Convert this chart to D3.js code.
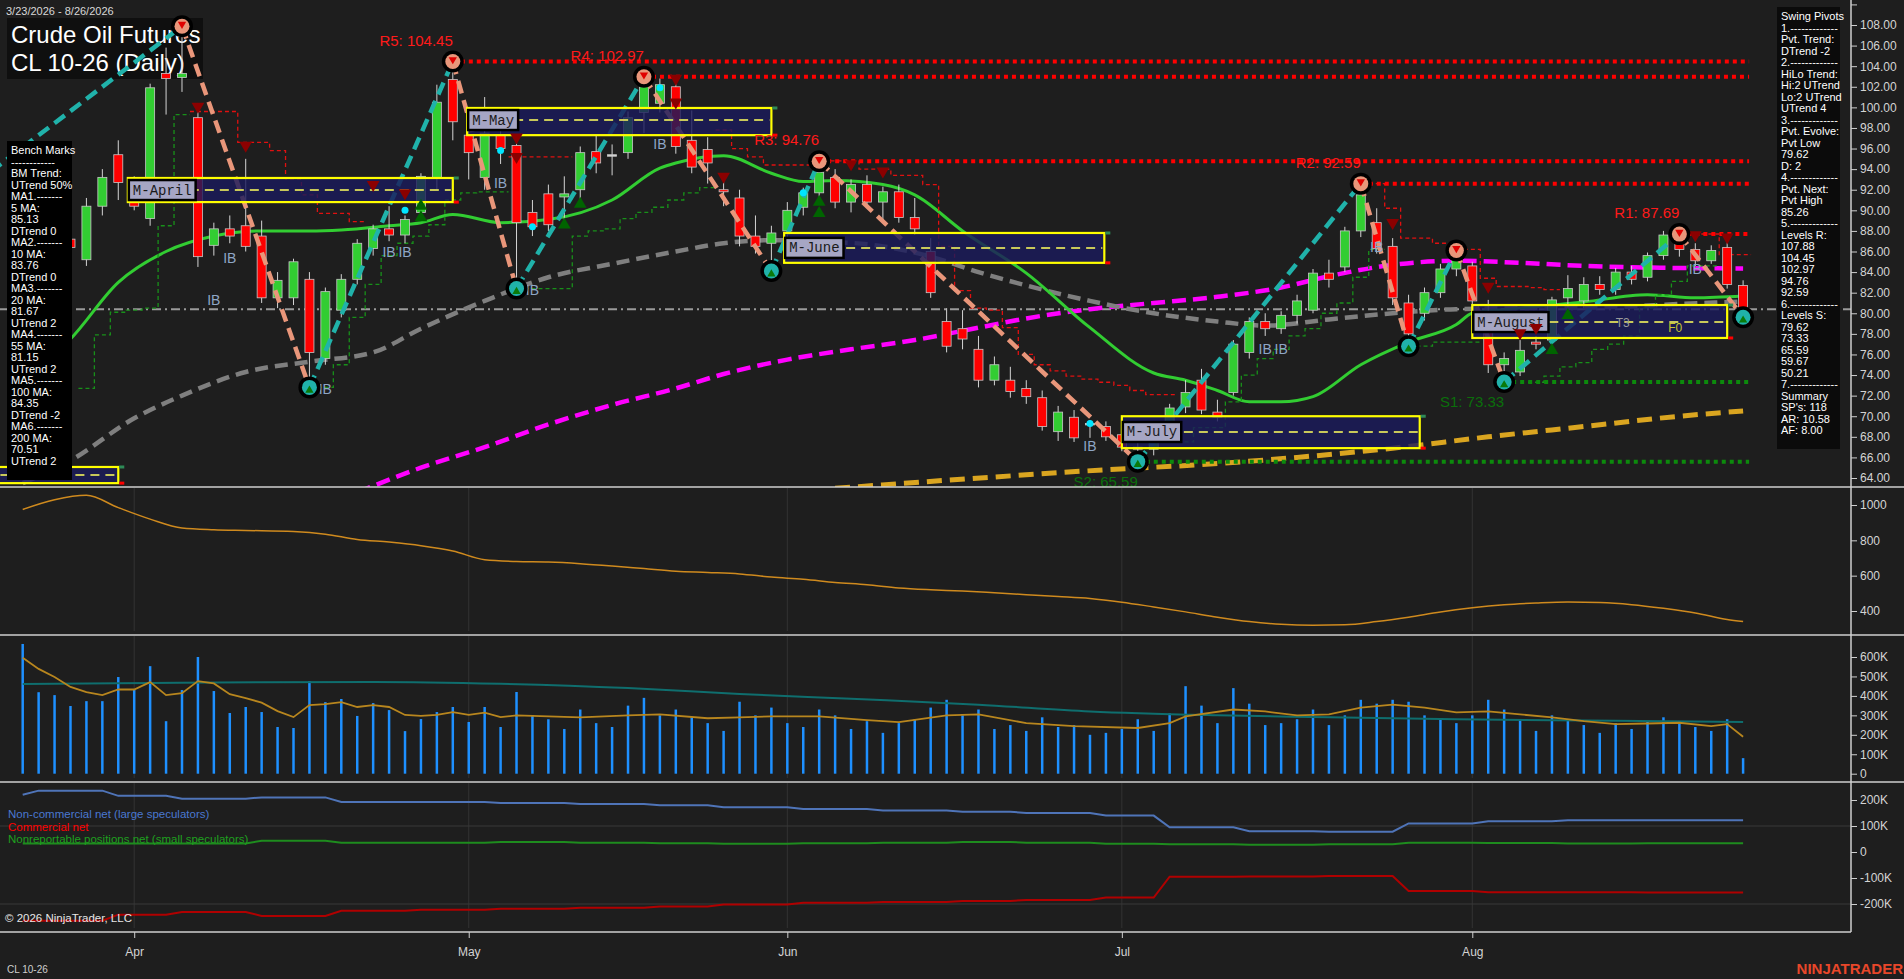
<!DOCTYPE html>
<html><head><meta charset="utf-8">
<script src="https://cdn.jsdelivr.net/npm/d3@7"></script>
<style>
html,body{margin:0;padding:0;background:#1e1e1e;overflow:hidden}
svg{display:block}
text{font-family:"Liberation Sans",Arial,sans-serif}
</style></head><body>
<svg id="chart" width="1904" height="979"></svg>
<script>
// ---------------- DATA ----------------
const holidays = ["2026-04-03","2026-05-25","2026-06-19","2026-07-03"];
const opens  = [89,90.5,89.2,87.2,85.2,90.4,95.4,92.5,89.2,103.3,102.9,99,86.6,88.2,88.5,87.5,81.5,81.5,83.3,75.6,80.3,83.3,86.3,88.2,87.6,89.8,93.2,102.7,97.3,93.2,97.3,96.3,89.8,91.6,91.3,92,95.7,95.3,95.6,99.5,100.4,102,96.8,95.9,92,91.2,87.5,86.8,88,90.3,91.7,93.2,90.8,92.5,90.8,91.8,89.3,86,79.2,78.5,76.5,73.5,73.5,72.7,71.8,68.5,69.9,69.2,69,68.2,67,66.8,68,70.9,73.5,70.4,72.3,76.2,79.2,78.5,79.8,80.3,83.9,84.5,88,88.8,86.5,81,80,82,84.3,84.6,79.3,75,74.3,77.2,77.4,81.5,81.2,82.8,82.3,84,83.5,85.6,87.2,86.2,85.1,86.4,82.7];
const highs  = [91.5,92,90,88.5,91.2,94,96.8,93.3,102.3,105.8,107.88,99.6,88.8,89.5,95,89,84,85.3,84,82.5,83.8,87.2,88.6,90.4,89.5,93.6,102.2,104.45,100,101,99,97,91,92.5,93.3,96.2,97.3,96.4,99.6,102.97,102.8,102.4,99.7,97.1,93.5,92,89.5,88.5,90.8,92.2,94.76,94,93,93.4,92.3,92.5,91.2,87.3,80.5,80.3,77.8,75.8,74.8,73.5,72.5,71,70.6,69.6,69.5,68.9,67.6,68.6,71.2,73.5,74.6,71.6,77.4,79.6,80,80.2,81.8,84.3,85.2,88.4,92.59,90.2,87.3,81.8,82.5,84.8,86.1,85,81.3,76.2,77.4,77.8,81.6,83.7,83.5,83.6,84.4,84.6,85.9,88,87.69,86.8,86.6,87,83.2];
const lows   = [87.5,88.8,86.5,85.5,84.6,89.5,91,90,88.5,99.3,101.5,84.5,85.6,86.8,86,81,80.5,80.8,72.8,75,79.6,82.8,85.6,87,86.8,89.4,92,96.8,93,92,94.5,82.4,87.5,88,89,91,93.6,93.4,95,97.5,99.5,95.5,93.6,92.6,90.4,86.5,85.8,84.1,87.4,89.5,91.2,90.2,89.8,90.3,89,88.8,87.6,81.5,76.2,76.5,72.8,73,71.8,71.2,68.6,67.6,67.5,67.9,67.6,66.6,65.59,66.2,67.5,70.3,70.2,69.5,72,75.6,77.8,78,79,80,82.5,84,87.4,85.8,80.8,76.8,79.3,81.5,83.6,80.5,74.2,73.33,73.9,76.5,77,80.6,80.5,81.8,81.8,82.8,83.1,85.2,85.5,84.6,84.8,82.4,79.62];
const closes = [90.5,89.2,87.2,86.4,90.4,93.2,92.7,90.4,101.9,102.8,103.3,85.5,88.2,87.5,86.5,81.5,83.2,85,76.2,82.1,83.3,86.8,88.2,87.6,89.1,93.3,100.5,98.6,95.6,97.5,96,88.8,88.4,88.6,91.6,95.6,94.6,95.4,99,102,102.2,96.2,94.2,94.6,91.8,87.5,86.5,87.8,90,91.7,93.7,90.8,92.5,90.8,91.8,89.3,88.2,82,76.8,77.5,73.5,75,72.4,71.9,69,70.4,67.9,69.3,68,67,66.8,68,70.8,72.3,70.6,69.9,77,79.2,78.5,79.8,81.2,83.9,83.3,88,91.5,86.3,81.5,78,82,84.3,85.4,81.2,75,75.6,76.4,77,81.3,82.4,82.8,82.3,84,83.3,85.6,87.6,86.2,85.1,86.1,82.8,80.4];
const volumesK = [667,419,404,348,373,373,497,433,553,270,430,600,425,312,343,317,240,235,476,368,384,297,363,327,219,281,317,343,266,343,240,
  420,300,280,230,330,260,240,350,390,300,330,290,260,220,370,300,340,260,240,330,300,230,270,210,260,280,340,380,300,330,
  230,250,220,290,240,250,200,210,230,280,220,310,450,350,260,440,360,250,260,280,330,250,300,380,360,380,370,300,280,260,
  300,380,330,280,220,300,280,250,210,260,230,270,290,260,240,220,280,80];
const volAvgFast = [[0,596],[1,539],[2,497],[3,446],[4,420],[5,404],[6,433],[7,433],[8,471],[9,404],[10,414],[11,476],[12,464],[13,409],[14,389],[15,365],[16,322],[17,291],[18,353],[19,358],[20,368],[21,343],[22,353],[23,343],[24,302],[25,297],[26,302],[27,317],[28,302],[29,314],[30,291],[31,300],[33,295],[35,290],[38,300],[40,305],[43,285],[45,290],[47,295],[50,295],[53,275],[55,265],[58,300],[60,305],[63,260],[66,245],[70,235],[72,260],[73,295],[76,330],[78,320],[80,300],[82,305],[84,340],[86,355],[88,340],[90,315],[92,320],[94,305],[96,290],[98,270],[100,255],[102,258],[104,262],[106,245],[107,255],[108,190]];
const volAvgSlow = [[0,461],[8,466],[15,470],[22,472],[30,462],[38,440],[45,410],[52,385],[60,355],[67,320],[75,300],[82,290],[90,280],[100,272],[108,266]];
const oscValues = [[0,975],[2,1030],[4,1055],[6,985],[8,920],[10,870],[12,860],[14,856],[17,850],[19,835],[21,805],[23,790],[25,770],[27,740],[29,690],[31,680],[33,677],[35,668],[37,655],[39,640],[41,625],[43,618],[45,610],[47,592],[49,580],[51,562],[53,548],[55,530],[57,520],[59,513],[61,503],[63,492],[65,482],[67,471],[69,450],[71,423],[73,395],[75,365],[77,340],[79,325],[81,320],[83,322],[85,340],[87,365],[89,395],[91,418],[93,435],[95,445],[97,451],[99,448],[101,436],[103,415],[105,389],[107,352],[108,340]];
// weekly COT (K), one value per report week (a new week starts each Tuesday)
const cotLarge = [220,236,216,205,210,192,192,188,185,180,172,165,160,155,150,140,95,80,78,110,118,122,122,122];
const cotComm  = [-264,-264,-241,-231,-246,-226,-222,-218,-214,-210,-202,-195,-192,-188,-185,-175,-95,-94,-92,-150,-155,-155,-156,-156];
const cotSmall = [33,33,33,33,43,36,36,38,36,34,32,34,36,38,36,32,30,28,30,36,35,33,34,34];
// moving averages [bar, price]
const ma20  = [[0,73.5],[3,77.5],[6,83],[9,86],[12,87.5],[15,88],[18,88],[20,88.1],[23,88.5],[25,88.8],[27,89.6],[30,88.8],[33,89.1],[37,91],[40,94.1],[41,94.6],[44,95.3],[47,93.6],[49,92.8],[51,92.9],[54,92.5],[56,91.5],[59,88],[63,83.9],[67,78.6],[71,74.2],[73,73.5],[75,72.5],[77,71.4],[79,71.4],[81,71.9],[84,75],[87,77.2],[90,78.9],[91,80],[94,80.5],[98,81.1],[102,81.8],[105,81.5],[108,81.67]];
const ma55  = [[0,63.5],[3,65.7],[7,69.8],[10,72],[14,74.3],[18,75.3],[22,76.2],[25,78.5],[29,81.2],[33,83.5],[37,84.8],[41,86],[44,86.8],[47,87.1],[50,87],[54,86.5],[57,85.5],[60,84],[63,82.7],[67,81.2],[71,80],[75,79.2],[78,78.8],[82,79.4],[86,80],[90,80.4],[95,80.5],[100,80.6],[104,80.9],[108,81.15]];
const ma100 = [[21,62.6],[25,65],[29,67],[33,69.2],[37,71.1],[41,72.7],[44,74.1],[48,75.5],[52,76.5],[56,77.4],[60,78.6],[63,79.5],[67,80.4],[71,81],[75,81.6],[79,82.5],[82,83.6],[86,84.7],[90,85.1],[94,84.9],[98,84.6],[104,84.4],[108,84.35]];
const ma200 = [[51,63.0],[61,64.1],[68,64.8],[74,65.3],[80,66.0],[86,66.9],[92,68.0],[98,69.0],[104,70.0],[108,70.51]];
const lastPrice = 80.4;
// swing pivots
const pivotBars   = [-12,10,18,27,31,39,47,50,70,84,87,90,93,104,108];
const pivotPrices = [82,107.88,72.8,104.45,82.4,102.97,84.1,94.76,65.59,92.59,76.8,86.1,73.33,87.69,79.62];
// levels
const levelNames  = ["R5","R4","R3","R2","R1","S1","S2"];
const levelValues = [104.45,102.97,94.76,92.59,87.69,73.33,65.59];
const levelFrom   = [27,39,50,84,104,93,70];
// trailing stop step lines [first bar, values per bar]
const stopsUpper = [[11,[99.6,99.6,99.6,96.6,96.6,95.8,93,91.5,89.7,89.7,88.9]],[31,[95.2,95.2,95.2,95.2]],
  [44,[97.8,96,95.2,94.4,94.4,94.4,94.4,94.8,94.8,94,94,93.4,93.4,92.5,86.5,82.2,80.5,80.3,78.6,76,75,74.4,73.9,73.6,73.3,73,72.5,72.1,72.1]],
  [85,[92.6,90.2,87.3,87.3,86.8,86.2,86.2,83.4,82.6,82.6,82.5,82.3]],[105,[87.7,87.7,85.7,85.7]]];
const stopsLower = [[4,[72.7,77.9,80.1,80.3,80.5,88.5,99.3]],[19,[72.8,75,79.6,82.8,85.6,86.8,87.5,88.6,91,91.7,91.8,91.8]],
  [32,[82.4,82.4,82.4,87.5,88,88.2,89.2,89.8,90.3,91.0,91.7,92.2]],[73,[67.5,68.9,68.9,71.4,74,75.6,76.5,77.8,78.5,80,81,83.5,86.2]],
  [88,[76.8,77.2,77.2,77.2]],[95,[73.3,73.9,74.8,75.2,76.5,77,77.8,80.5,81.8,83.1,84.6,84.6]]];
// monthly pivot boxes
const mNames = ["M-March","M-April","M-May","M-June","M-July","M-August"];
const mFrom  = [-10,6.6,27.9,47.8,69.0,91.0];
const mTo    = [6.0,27.0,47.0,67.9,87.7,107.0];
const mTop   = [65.07,93.14,99.94,87.8,70.0,80.8];
const mBot   = [63.5,90.8,97.3,84.9,66.9,77.6];
const mMid   = [64.3,91.97,98.77,86.35,68.47,79.15];
// signal markers
const sellMarks = [[11,100.1],[14,96.3],[22,92.5],[24,91.7],[31,97.1],[31,95.2],[41,102.8],[41,100.5],[44,93.3],[52,94.5],[54,93.8],[86,88.8],[92,82.6],[94,78.1],[95,78.6],[105,87.6],[107,87.4]];
const buyMarks  = [[25,90.4],[25,89.3],[34,88.6],[35,90.6],[50,90.8],[50,89.7],[96,76.4],[97,79.8]];
const dotMarks  = [[24,90],[30,95.8],[32,88.4],[40,101.9],[49,91.7],[67,69.3]];
const ibMarks   = [[12,81.3],[13,85.4],[19,72.6],[23,86],[24,86],[30,92.7],[32,82.3],[40,96.4],[67,67.1],[78,76.5],[79,76.5],[85,86.4],[105,84.3]];
const weekTags  = [["T3",100,79.05,"#9a9a9a"],["F0",103.3,78.6,"#c8c832"]];
// tick labels
const priceTicks = d3.range(64,110.1,2);
const oscTicks = [400,600,800,1000];
const volTicks = [0,100,200,300,400,500,600];
const cotTicks = [-200,-100,0,100,200];
const benchLines = ["Bench Marks","------------","BM Trend:","UTrend 50%","MA1.-------","5 MA:","85.13","DTrend 0","MA2.-------","10 MA:","83.76","DTrend 0","MA3.-------","20 MA:","81.67","UTrend 2","MA4.-------","55 MA:","81.15","UTrend 2","MA5.-------","100 MA:","84.35","DTrend -2","MA6.-------","200 MA:","70.51","UTrend 2"];
const swingLines = ["Swing Pivots","1.-------------","Pvt. Trend:","DTrend -2","2.-------------","HiLo Trend:","Hi:2 UTrend","Lo:2 UTrend","UTrend 4","3.-------------","Pvt. Evolve:","Pvt Low","79.62","D: 2","4.-------------","Pvt. Next:","Pvt High","85.26","5.-------------","Levels R:","107.88","104.45","102.97","94.76","92.59","6.-------------","Levels S:","79.62","73.33","65.59","59.67","50.21","7.-------------","Summary","SP's: 118","AR: 10.58","AF: 8.00"];
const legendNames = ["Non-commercial net (large speculators)","Commercial net","Nonreportable positions net (small speculators)"];

// ---------------- BUILD ----------------
const dates = [];
for (let d = new Date(Date.UTC(2026,2,23)); d <= new Date(Date.UTC(2026,7,26)); d.setUTCDate(d.getUTCDate()+1)) {
  const wd = d.getUTCDay(), s = d.toISOString().slice(0,10);
  if (wd>0 && wd<6 && !holidays.includes(s)) dates.push(new Date(d));
}
let wk = 0; const weekOf = dates.map((d,i)=>{ if (i>0 && d.getUTCDay()===2) wk++; return wk; });
const monthIdx = dates.map((d,i)=>i).filter(i=>i>0 && dates[i].getUTCMonth()!==dates[i-1].getUTCMonth());

const svg = d3.select("#chart");
const AX = 1851;
const x = d3.scaleLinear().domain([0,108]).range([22.7,1743.1]);
const yP = d3.scaleLinear().domain([64,108]).range([478,25]);
const yO = d3.scaleLinear().domain([400,1000]).range([611,505]);
const yV = d3.scaleLinear().domain([0,600]).range([773.7,657]);
const yC = d3.scaleLinear().domain([-200,200]).range([904,800]);
const panels = {price:[0,487],osc:[487,635],vol:[635,782],cot:[782,932]};

const defs = svg.append("defs");
Object.entries(panels).forEach(([k,[a,b]])=>{
  defs.append("clipPath").attr("id","clip-"+k).append("rect").attr("x",0).attr("y",a).attr("width",AX).attr("height",b-a);
});
svg.append("rect").attr("width",1904).attr("height",979).attr("fill","#1e1e1e");

// title (beneath chart marks)
svg.append("text").attr("x",6).attr("y",15).attr("fill","#d8d8d8").style("font-size","11px").text("3/23/2026 - 8/26/2026");
svg.append("rect").attr("x",7).attr("y",18).attr("width",196).attr("height",61).attr("fill","#0f0f0f");
svg.append("text").attr("x",11).attr("y",43).attr("fill","#fff").style("font-size","24px").text("Crude Oil Futures");
svg.append("text").attr("x",11).attr("y",71).attr("fill","#fff").style("font-size","24px").text("CL 10-26 (Daily)");

// grid in lower panels
["osc","vol","cot"].forEach(k=>{
  const [a,b]=panels[k];
  svg.append("g").selectAll("line").data(monthIdx).join("line")
    .attr("x1",i=>x(i)).attr("x2",i=>x(i)).attr("y1",a+1).attr("y2",b-4).attr("stroke","#333").attr("stroke-width",1);
});
svg.append("g").selectAll("line").data([100,-200]).join("line").attr("x1",0).attr("x2",AX)
  .attr("y1",d=>yC(d)).attr("y2",d=>yC(d)).attr("stroke","#383838");

// ---------- price panel ----------
const gp = svg.append("g").attr("clip-path","url(#clip-price)");
gp.append("line").attr("x1",0).attr("x2",AX).attr("y1",yP(lastPrice)).attr("y2",yP(lastPrice))
  .attr("stroke","#9a9a9a").attr("stroke-width",2).attr("stroke-dasharray","9,4,2,4");
const pl = d3.line().x(d=>x(d[0])).y(d=>yP(d[1])).curve(d3.curveMonotoneX);
gp.append("path").attr("d",pl(ma200)).attr("fill","none").attr("stroke","#daa520").attr("stroke-width",5).attr("stroke-dasharray","15,8");
gp.append("path").attr("d",pl(ma100)).attr("fill","none").attr("stroke","#ff00ff").attr("stroke-width",4.5).attr("stroke-dasharray","14,7");
gp.append("path").attr("d",pl(ma55)).attr("fill","none").attr("stroke","#7f7f7f").attr("stroke-width",4.5).attr("stroke-dasharray","13,7");
gp.append("path").attr("d",pl(ma20)).attr("fill","none").attr("stroke","#32cd32").attr("stroke-width",3);

const stepLine = d3.line().x(d=>x(d[0])).y(d=>yP(d[1])).curve(d3.curveStepAfter);
function stepPts(seg){ const [s,v]=seg; const pts=v.map((val,k)=>[s+k-0.5,val]); pts.push([s+v.length-0.5,v[v.length-1]]); return pts; }
gp.append("g").selectAll("path").data(stopsUpper).join("path").attr("d",d=>stepLine(stepPts(d)))
  .attr("fill","none").attr("stroke","#e01010").attr("stroke-width",1.3).attr("stroke-dasharray","4,3");
gp.append("g").selectAll("path").data(stopsLower).join("path").attr("d",d=>stepLine(stepPts(d)))
  .attr("fill","none").attr("stroke","#18901a").attr("stroke-width",1.3).attr("stroke-dasharray","4,3");

const candles = dates.map((d,i)=>({i,o:opens[i],h:highs[i],l:lows[i],c:closes[i]}));
gp.append("g").selectAll("line").data(candles).join("line")
  .attr("x1",d=>x(d.i)).attr("x2",d=>x(d.i)).attr("y1",d=>yP(d.h)).attr("y2",d=>yP(d.l))
  .attr("stroke","#d4d4d4").attr("stroke-width",1);
gp.append("g").selectAll("rect").data(candles).join("rect")
  .attr("x",d=>x(d.i)-4.5).attr("width",9)
  .attr("y",d=>yP(Math.max(d.o,d.c))).attr("height",d=>Math.max(1.5,Math.abs(yP(d.o)-yP(d.c))))
  .attr("fill",d=>Math.abs(d.c-d.o)<0.15?"#d4d4d4":(d.c>d.o?"#32cd32":"#ff0000"))
  .attr("stroke","#c8c8c8").attr("stroke-width",0.8);

// swing lines
const pivots = pivotBars.map((b,k)=>({b,p:pivotPrices[k],t:k%2===0?"L":"H"}));
gp.append("g").selectAll("line").data(pivots.slice(0,-1)).join("line")
  .attr("x1",d=>x(d.b)).attr("y1",d=>yP(d.p))
  .attr("x2",(d,k)=>x(pivots[k+1].b)).attr("y2",(d,k)=>yP(pivots[k+1].p))
  .attr("stroke",d=>d.t==="L"?"#20b2aa":"#e9967a").attr("stroke-width",4.5).attr("stroke-dasharray","13,7");

// monthly boxes
const boxes = mNames.map((n,k)=>({n,f:mFrom[k],t:mTo[k],top:mTop[k],bot:mBot[k],mid:mMid[k]}));
const gb = gp.append("g");
gb.selectAll("rect.box").data(boxes).join("rect").attr("class","box")
  .attr("x",d=>x(d.f)).attr("width",d=>x(d.t)-x(d.f)).attr("y",d=>yP(d.top)).attr("height",d=>yP(d.bot)-yP(d.top))
  .attr("fill","#1b1b5c").attr("fill-opacity",0.82).attr("stroke","#ffff00").attr("stroke-width",2.2);
gb.selectAll("line.mid").data(boxes).join("line").attr("class","mid")
  .attr("x1",d=>x(d.f)+2).attr("x2",d=>x(d.t)-2).attr("y1",d=>yP(d.mid)).attr("y2",d=>yP(d.mid))
  .attr("stroke","#c8c85a").attr("stroke-width",2).attr("stroke-dasharray","9,6");
gb.selectAll("rect.tg").data(boxes).join("rect").attr("class","tg")
  .attr("x",d=>x(d.t)+1).attr("y",d=>yP(d.top)-1.5).attr("width",5).attr("height",3).attr("fill","#2e8b57");
gb.selectAll("rect.tr").data(boxes).join("rect").attr("class","tr")
  .attr("x",d=>x(d.t)+1).attr("y",d=>yP(d.bot)-1.5).attr("width",5).attr("height",3).attr("fill","#ff0000");
const lb = gb.selectAll("g.lab").data(boxes.slice(1)).join("g").attr("class","lab");
lb.append("rect").attr("x",d=>x(d.f)+1).attr("y",d=>yP(d.mid)-10).attr("width",d=>d.n.length*8.4+8).attr("height",20)
  .attr("fill","#a6a6c4").attr("stroke","#000").attr("stroke-width",2.5);
lb.append("text").attr("x",d=>x(d.f)+5).attr("y",d=>yP(d.mid)+4.5).attr("fill","#1a1a1a")
  .style("font-family","'Liberation Mono','DejaVu Sans Mono',monospace").style("font-size","14px").text(d=>d.n);
gp.append("g").selectAll("text").data(weekTags).join("text").attr("x",d=>x(d[1])).attr("y",d=>yP(d[2])+4)
  .attr("fill",d=>d[3]).style("font-size","12px").text(d=>d[0]);

// level lines
const levels = levelNames.map((n,k)=>({n,v:levelValues[k],f:levelFrom[k],r:n[0]==="R"}));
gp.append("g").selectAll("line").data(levels).join("line")
  .attr("x1",d=>x(d.f)+8).attr("x2",x(108)+6).attr("y1",d=>yP(d.v)).attr("y2",d=>yP(d.v))
  .attr("stroke",d=>d.r?"#ff0000":"#0c8a0c").attr("stroke-width",4).attr("stroke-dasharray","4,4");
gp.append("g").selectAll("text").data(levels).join("text")
  .attr("x",d=>x(d.f)).attr("y",d=>d.r?yP(d.v)-16:yP(d.v)+25).attr("text-anchor","end")
  .attr("fill",d=>d.r?"#ff1a1a":"#0b6e0b").style("font-size","15px").text(d=>`${d.n}: ${d.v.toFixed(2)}`);

// markers
const tri = d3.symbol().type(d3.symbolTriangle).size(70);
gp.append("g").selectAll("path").data(sellMarks).join("path")
  .attr("transform",d=>`translate(${x(d[0])},${yP(d[1])}) rotate(180)`).attr("d",tri).attr("fill","#8b0000");
gp.append("g").selectAll("path").data(buyMarks).join("path")
  .attr("transform",d=>`translate(${x(d[0])},${yP(d[1])})`).attr("d",tri).attr("fill","#006400");
gp.append("g").selectAll("circle").data(dotMarks).join("circle")
  .attr("cx",d=>x(d[0])).attr("cy",d=>yP(d[1])).attr("r",3.5).attr("fill","#00e5ff");
gp.append("g").selectAll("text").data(ibMarks).join("text")
  .attr("x",d=>x(d[0])).attr("y",d=>yP(d[1])+5).attr("text-anchor","middle").attr("fill","#8ea6c6").style("font-size","14px").text("IB");

// pivot circles
const pv = gp.append("g").selectAll("g").data(pivots.filter(d=>d.b>=0)).join("g")
  .attr("transform",d=>`translate(${x(d.b)},${yP(d.p)})`);
pv.append("circle").attr("r",11).attr("fill","#000");
pv.append("circle").attr("r",7.5).attr("fill",d=>d.t==="H"?"#e9967a":"#20b2aa");
pv.append("path").attr("d",d3.symbol().type(d3.symbolTriangle).size(30))
  .attr("transform",d=>d.t==="H"?"translate(0,-2) rotate(180)":"translate(0,3)")
  .attr("fill",d=>d.t==="H"?"#e00000":"#0a7a0a");

// ---------- oscillator ----------
const go = svg.append("g").attr("clip-path","url(#clip-osc)");
go.append("path").attr("d",d3.line().x(d=>x(d[0])).y(d=>yO(d[1])).curve(d3.curveMonotoneX)(oscValues))
  .attr("fill","none").attr("stroke","#cf8a1e").attr("stroke-width",1.5);

// ---------- volume ----------
const gv = svg.append("g").attr("clip-path","url(#clip-vol)");
gv.append("g").selectAll("line").data(volumesK).join("line")
  .attr("x1",(d,i)=>x(i)).attr("x2",(d,i)=>x(i)).attr("y1",yV(0)).attr("y2",d=>yV(d))
  .attr("stroke","#1e90ff").attr("stroke-width",2.5);
const vl = d3.line().x(d=>x(d[0])).y(d=>yV(d[1]));
gv.append("path").attr("d",vl.curve(d3.curveMonotoneX)(volAvgSlow)).attr("fill","none").attr("stroke","#0f6e6e").attr("stroke-width",2);
gv.append("path").attr("d",vl.curve(d3.curveLinear)(volAvgFast)).attr("fill","none").attr("stroke","#b8861e").attr("stroke-width",1.8);

// ---------- COT ----------
const gc = svg.append("g").attr("clip-path","url(#clip-cot)");
const cl = d3.line().x((d,i)=>x(i)).y(d=>yC(d));
[[cotLarge,"#4f74b8"],[cotComm,"#b00000"],[cotSmall,"#1e8c1e"]].forEach(([arr,col])=>{
  gc.append("path").attr("d",cl(dates.map((d,i)=>arr[weekOf[i]]))).attr("fill","none").attr("stroke",col).attr("stroke-width",2);
});
const legCols = ["#4a78d0","#ff0000","#1fa01f"];
svg.append("g").selectAll("text").data(legendNames).join("text")
  .attr("x",8).attr("y",(d,k)=>818+k*12.5).attr("fill",(d,k)=>legCols[k]).style("font-size","11.5px").text(d=>d);
svg.append("text").attr("x",5).attr("y",922).attr("fill","#e6e6e6").style("font-size","11.5px").text("© 2026 NinjaTrader, LLC");

// ---------- frame & axes ----------
[487,635,782].forEach(y=>svg.append("line").attr("x1",0).attr("x2",1904).attr("y1",y).attr("y2",y).attr("stroke","#cfcfcf").attr("stroke-width",1.5));
svg.append("line").attr("x1",0).attr("x2",AX).attr("y1",932).attr("y2",932).attr("stroke","#cfcfcf").attr("stroke-width",1.5);
svg.append("line").attr("x1",AX).attr("x2",AX).attr("y1",0).attr("y2",932).attr("stroke","#cfcfcf").attr("stroke-width",1.5);
function rightAxis(scale,ticks,fmt){
  const a = svg.append("g").attr("transform",`translate(${AX},0)`)
    .call(d3.axisRight(scale).tickValues(ticks).tickSize(6).tickPadding(3).tickFormat(fmt));
  a.select(".domain").remove();
  a.selectAll("line").attr("stroke","#cfcfcf");
  a.selectAll("text").attr("fill","#d4d4d4").style("font-size","12px").style("font-family","'Liberation Sans',Arial,sans-serif");
  return a;
}
const pa = rightAxis(yP,priceTicks,d3.format(".2f"));
pa.selectAll(".tick").filter(d=>d>108).select("text").remove();
rightAxis(yO,oscTicks,d3.format("d"));
const fK = d=>d===0?"0":d+"K";
rightAxis(yV,volTicks,fK);
rightAxis(yC,cotTicks,fK);
const xa = svg.append("g").attr("transform","translate(0,932)")
  .call(d3.axisBottom(x).tickValues(monthIdx).tickSize(6).tickPadding(9).tickFormat(i=>d3.utcFormat("%b")(dates[i])));
xa.select(".domain").remove();
xa.selectAll("line").attr("stroke","#cfcfcf");
xa.selectAll("text").attr("fill","#d4d4d4").style("font-size","12px").style("font-family","'Liberation Sans',Arial,sans-serif");

svg.append("text").attr("x",7).attr("y",973).attr("fill","#cfcfcf").style("font-size","10px").text("CL 10-26");
svg.append("text").attr("x",1903).attr("y",974).attr("text-anchor","end").attr("fill","#e8472a")
  .style("font-size","15px").style("font-weight","bold").text("NINJATRADER");

// ---------- info panels ----------
svg.append("rect").attr("x",7).attr("y",141).attr("width",65).attr("height",339).attr("fill","#000");
svg.append("g").selectAll("text").data(benchLines).join("text").attr("x",11).attr("y",(d,k)=>154+k*11.5)
  .attr("fill","#fff").style("font-size","11px").text(d=>d);
svg.append("rect").attr("x",1777).attr("y",7).attr("width",63).attr("height",442).attr("fill","#0b0b0b");
svg.append("g").selectAll("text").data(swingLines).join("text").attr("x",1781).attr("y",(d,k)=>20+k*11.5)
  .attr("fill","#fff").style("font-size","11px").text(d=>d);
</script>
</body></html>
